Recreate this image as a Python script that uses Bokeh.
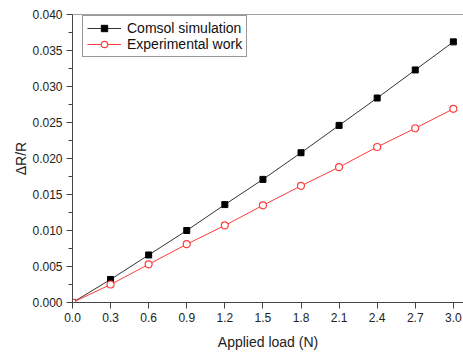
from bokeh.plotting import figure
from bokeh.models import FixedTicker, NumeralTickFormatter, Range1d, Span, Legend, LegendItem
from bokeh.embed import file_html
from bokeh.resources import INLINE

load = [0.0, 0.3, 0.6, 0.9, 1.2, 1.5, 1.8, 2.1, 2.4, 2.7, 3.0]
comsol = [0.0, 0.0032, 0.0066, 0.0100, 0.0136, 0.0171, 0.0208, 0.0246, 0.0284, 0.0323, 0.0362]
experimental = [0.0, 0.0025, 0.0053, 0.0081, 0.0107, 0.0135, 0.0162, 0.0188, 0.0216, 0.0242, 0.0269]
x_ticks = [0.0, 0.3, 0.6, 0.9, 1.2, 1.5, 1.8, 2.1, 2.4, 2.7, 3.0]
y_ticks = [0.0, 0.005, 0.010, 0.015, 0.020, 0.025, 0.030, 0.035, 0.040]
y_minor = [0.0025, 0.0075, 0.0125, 0.0175, 0.0225, 0.0275, 0.0325, 0.0375]

FONT = "Liberation Sans"
AX = "#444444"

p = figure(width=463, height=352, output_backend="svg", toolbar_location=None,
           x_range=Range1d(0, 3.08), y_range=Range1d(0, 0.04),
           min_border_left=72, min_border_right=0, min_border_top=14, min_border_bottom=49,
           background_fill_color="white", border_fill_color="white")
p.outline_line_color = None
p.xgrid.grid_line_color = None
p.ygrid.grid_line_color = None

p.xaxis.ticker = FixedTicker(ticks=x_ticks)
p.yaxis.ticker = FixedTicker(ticks=y_ticks, minor_ticks=y_minor)
p.xaxis.formatter = NumeralTickFormatter(format="0.0")
p.yaxis.formatter = NumeralTickFormatter(format="0.000")
for ax in (p.xaxis, p.yaxis):
    ax.axis_line_color = AX
    ax.major_tick_line_color = AX
    ax.minor_tick_line_color = AX
    ax.major_tick_out = 6
    ax.major_tick_in = 0
    ax.minor_tick_out = 4
    ax.minor_tick_in = 0
    ax.major_label_text_font = FONT
    ax.major_label_text_font_size = "12px"
    ax.major_label_text_color = "#222222"
    ax.axis_label_text_font = FONT
    ax.axis_label_text_font_size = "14px"
    ax.axis_label_text_font_style = "normal"
    ax.axis_label_text_color = "#222222"
p.xaxis.minor_tick_line_color = None
p.xaxis.axis_label = "Applied load (N)"
p.yaxis.axis_label = "ΔR/R"
p.xaxis.axis_label_standoff = 9
p.yaxis.axis_label_standoff = 0
p.xaxis.major_label_standoff = 4
p.yaxis.major_label_standoff = 4

p.add_layout(Span(location=0.04, dimension="width", line_color=AX, line_width=1))

l1 = p.line(load, comsol, line_color="#333333", line_width=1)
s1 = p.scatter(load, comsol, marker="square", size=6, fill_color="black", line_color="black")
l2 = p.line(load, experimental, line_color="#ff3b3b", line_width=1)
s2 = p.scatter(load, experimental, marker="circle", size=7, fill_color="white",
               line_color="#ff3b3b", line_width=1.2)

legend = Legend(items=[LegendItem(label="Comsol simulation", renderers=[l1, s1]),
                       LegendItem(label="Experimental work", renderers=[l2, s2])],
                location=(10, 245), orientation="vertical")
legend.label_text_font = FONT
legend.label_text_font_size = "14px"
legend.label_text_color = "#111111"
legend.glyph_width = 34
legend.glyph_height = 16
legend.label_height = 16
legend.label_standoff = 6
legend.spacing = 0
legend.padding = 4
legend.margin = 0
legend.border_line_color = "#333333"
legend.border_line_width = 1
legend.background_fill_alpha = 1
p.add_layout(legend, "center")

open("out.html", "w").write(file_html(p, INLINE))
